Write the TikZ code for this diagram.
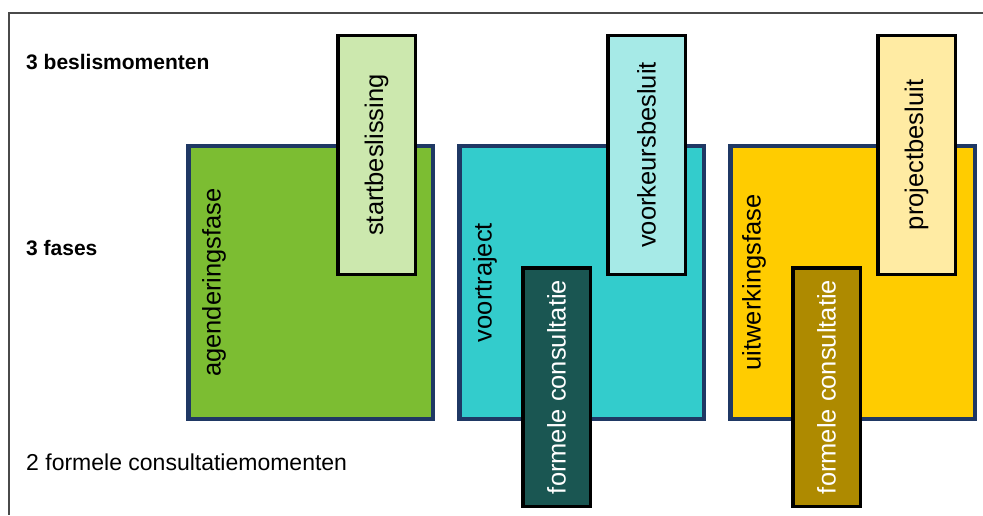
\documentclass[tikz,border=0pt]{standalone}
\usepackage{fontspec}
\setmainfont{Liberation Sans}
\usepackage{graphicx}
\usetikzlibrary{positioning}
\definecolor{framegray}{HTML}{4A4A4A}
\definecolor{faseborder}{HTML}{1F3864}
\definecolor{agendagreen}{HTML}{7CBD32}
\definecolor{voorcyan}{HTML}{33CCCC}
\definecolor{uitwyellow}{HTML}{FFCC00}
\definecolor{startgreen}{HTML}{CCE8AE}
\definecolor{voorkeurcyan}{HTML}{A6EAE7}
\definecolor{projectyellow}{HTML}{FFEBA3}
\definecolor{consultteal}{HTML}{1A5652}
\definecolor{consultolive}{HTML}{AE8A00}
\newcommand{\boxfont}{\fontsize{25.5}{30}\selectfont}

\begin{document}
\begin{tikzpicture}[x=1pt, y=1pt,
    fase/.style={draw=faseborder, line width=4.5pt, minimum width=244.5pt, minimum height=272.5pt, inner sep=0pt},
    faselabel/.style={rotate=90, inner sep=0pt, font=\boxfont},
    besluit/.style={draw=black, line width=3.5pt, minimum width=77.5pt, minimum height=238.5pt, inner sep=0pt, font=\boxfont, anchor=north west},
    consult/.style={besluit, minimum width=67.5pt, text=white},
    kop/.style={anchor=base west, inner sep=0pt, font=\bfseries\fontsize{21}{25}\selectfont}
]
    \useasboundingbox (0,0) rectangle (983,515);

    % Frame (top and left edge only)
    \coordinate (frameleft) at (9,0);
    \coordinate (framecorner) at (9,502);
    \coordinate (frameright) at (983,502);
    \draw[framegray, line width=2pt] (frameright) -- (framecorner) -- (frameleft);

    % Row headings
    \node[kop] (beslis) at (26,445) {3 beslismomenten};
    \node[kop] (fases) at (26,260) {3 fases};
    \node[kop, font=\fontsize{23}{27}\selectfont] (consultaties) at (26,45) {2 formele consultatiemomenten};

    % Phases
    \node[fase, fill=agendagreen] (agenda) at (310.5,232.5) {};
    \node[fase, fill=voorcyan, right=22pt of agenda] (voor) {};
    \node[fase, fill=uitwyellow, right=22pt of voor] (uitw) {};

    \node[faselabel] (agendalbl) at ([xshift=28pt]agenda.west) {agenderingsfase};
    \node[faselabel] (voorlbl) at ([xshift=28pt]voor.west) {voortraject};
    \node[faselabel] (uitwlbl) at ([xshift=26pt]uitw.west) {uitwerkingsfase};

    % Decision moments
    \node[besluit, fill=startgreen] (start) at ([xshift=150pt,yshift=110pt]agenda.north west) {\rotatebox{90}{startbeslissing}};
    \node[besluit, fill=voorkeurcyan] (voorkeur) at ([xshift=149pt,yshift=110pt]voor.north west) {\rotatebox{90}{voorkeursbesluit}};
    \node[besluit, fill=projectyellow] (project) at ([xshift=148pt,yshift=110pt]uitw.north west) {\rotatebox{90}{projectbesluit}};

    % Formal consultations
    \node[consult, fill=consultteal] (consult1) at ([xshift=64pt,yshift=-122pt]voor.north west) {\rotatebox{90}{formele consultatie}};
    \node[consult, fill=consultolive] (consult2) at ([xshift=63pt,yshift=-122pt]uitw.north west) {\rotatebox{90}{formele consultatie}};

\end{tikzpicture}
\end{document}
